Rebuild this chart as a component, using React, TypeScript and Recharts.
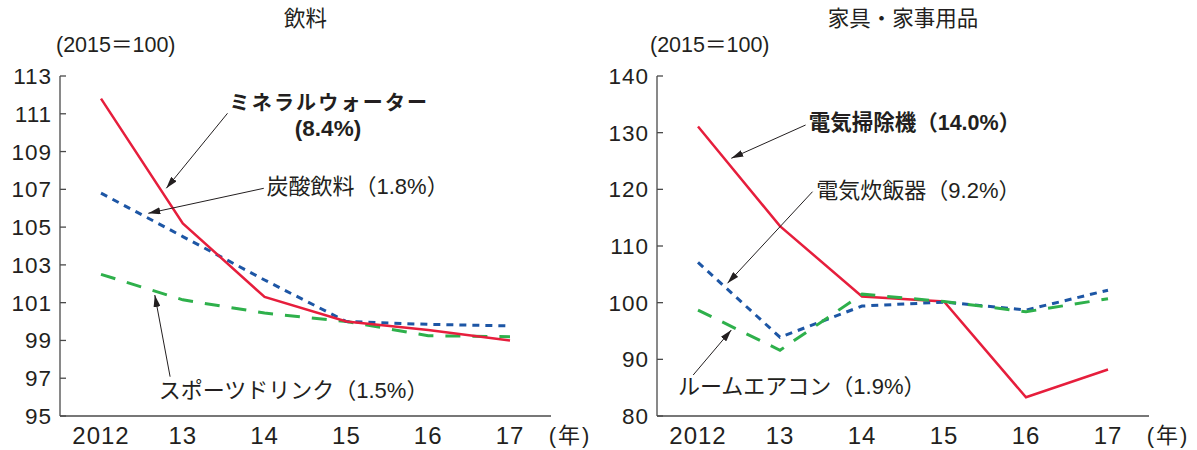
import { LineChart, Line, XAxis, YAxis } from "recharts";

// x categories (years)
const years = ["2012", "13", "14", "15", "16", "17"];

// 飲料 (2015=100)
const mineralWater = [111.8, 105.2, 101.3, 100.0, 99.55, 99.0];
const carbonated = [106.8, 104.5, 102.2, 100.0, 99.85, 99.77];
const sportsDrink = [102.5, 101.15, 100.45, 100.0, 99.25, 99.2];
const drinkTicks = [95, 97, 99, 101, 103, 105, 107, 109, 111, 113];

// 家具・家事用品 (2015=100)
const vacuum = [131.1, 113.5, 101.1, 100.2, 83.3, 88.2];
const riceCooker = [107.1, 93.9, 99.4, 100.1, 98.7, 102.2];
const airCon = [98.7, 91.6, 101.5, 100.2, 98.4, 100.7];
const homeTicks = [80, 90, 100, 110, 120, 130, 140];

const drinkRows = years.map((year, i) => ({
  year,
  mineral: mineralWater[i],
  carbonated: carbonated[i],
  sports: sportsDrink[i],
}));

const homeRows = years.map((year, i) => ({
  year,
  vacuum: vacuum[i],
  rice: riceCooker[i],
  aircon: airCon[i],
}));

const INK = "#231f20";
const FRAME = "#4a4a4a";
const RED = "#e61e3c";
const BLUE = "#1d56a5";
const GREEN = "#2eb04b";
const LATIN = "'Liberation Sans', Arial, 'Noto Sans CJK JP', sans-serif";

const TOP = 76;
const PLOT_H = 340;

interface TickProps {
  x?: number;
  y?: number;
  payload?: { value: string | number };
}

const makeYTick = (axisX: number) => (props: TickProps) => {
  const { y = 0, payload } = props;
  return (
    <g>
      <line x1={axisX} x2={axisX + 6} y1={y} y2={y} stroke={FRAME} strokeWidth={1.3} />
      <text
        x={axisX - 8}
        y={y + 8}
        textAnchor="end"
        fontFamily={LATIN}
        fontSize={22.5}
        letterSpacing={1}
        fill={INK}
      >
        {payload?.value}
      </text>
    </g>
  );
};

const XTick = (props: TickProps) => {
  const { x = 0, payload } = props;
  return (
    <text
      x={x}
      y={TOP + PLOT_H + 28}
      textAnchor="middle"
      fontFamily={LATIN}
      fontSize={24}
      letterSpacing={1}
      fill={INK}
    >
      {payload?.value}
    </text>
  );
};

interface PanelProps {
  rows: Record<string, string | number>[];
  width: number;
  axisW: number;
  right: number;
  domain: [number, number];
  ticks: number[];
  series: { key: string; color: string; dash?: string; width: number }[];
}

function Panel({ rows, width, axisW, right, domain, ticks, series }: PanelProps) {
  const frame = { stroke: FRAME, strokeWidth: 1.3 };
  return (
    <LineChart
      width={width}
      height={450}
      data={rows}
      margin={{ top: TOP, right, bottom: 0, left: 0 }}
    >
      <XAxis
        dataKey="year"
        height={34}
        padding={{ left: 41, right: 41 }}
        interval={0}
        axisLine={frame}
        tickLine={false}
        tick={XTick}
      />
      <XAxis
        xAxisId="top"
        orientation="top"
        dataKey="year"
        height={0}
        padding={{ left: 41, right: 41 }}
        axisLine={frame}
        tickLine={false}
        tick={false}
      />
      <YAxis
        width={axisW}
        domain={domain}
        ticks={ticks}
        interval={0}
        allowDataOverflow
        axisLine={frame}
        tickLine={false}
        tick={makeYTick(axisW)}
      />
      <YAxis
        yAxisId="right"
        orientation="right"
        width={0}
        domain={domain}
        axisLine={frame}
        tickLine={false}
        tick={false}
      />
      {series.map((s) => (
        <Line
          key={s.key}
          type="linear"
          dataKey={s.key}
          stroke={s.color}
          strokeWidth={s.width}
          strokeDasharray={s.dash}
          dot={false}
          activeDot={false}
          isAnimationActive={false}
        />
      ))}
    </LineChart>
  );
}

interface Note {
  text: string;
  x: number;
  y: number;
  bold?: boolean;
  size?: number;
  anchor?: "start" | "middle" | "end";
  spacing?: number;
}

const notes: Note[] = [
  { text: "飲料", x: 305.5, y: 19, anchor: "middle", size: 21.5 },
  { text: "家具・家事用品", x: 903, y: 19, anchor: "middle", size: 21.5 },
  { text: "(2015＝100)", x: 56, y: 45, size: 21.5 },
  { text: "(2015＝100)", x: 650, y: 45, size: 21.5 },
  { text: "(年)", x: 570, y: 435, anchor: "middle", size: 22, spacing: 2 },
  { text: "(年)", x: 1168, y: 435, anchor: "middle", size: 22, spacing: 2 },
  { text: "ミネラルウォーター", x: 229.5, y: 102.5, bold: true, size: 20, spacing: 2.2 },
  { text: "(8.4%)", x: 328, y: 128.5, bold: true, size: 22.5, anchor: "middle" },
  { text: "炭酸飲料（1.8%）", x: 266.5, y: 186 },
  { text: "スポーツドリンク（1.5%）", x: 158.7, y: 390 },
  { text: "電気掃除機（14.0%）", x: 808.7, y: 123, bold: true, size: 21.5 },
  { text: "電気炊飯器（9.2%）", x: 816.3, y: 190 },
  { text: "ルームエアコン（1.9%）", x: 678, y: 386 },
];

// leader arrows: [fromX, fromY, tipX, tipY]
const arrows: [number, number, number, number][] = [
  [227.5, 113.3, 166.3, 188.3],
  [263.8, 188.3, 148.3, 213.3],
  [170.1, 376.7, 154.8, 295],
  [805.6, 125, 731.3, 158.3],
  [812.5, 191.7, 727.5, 283.3],
  [693.2, 375, 731.3, 330],
];

function Annotations() {
  return (
    <svg
      width={1197}
      height={450}
      style={{ position: "absolute", left: 0, top: 0, pointerEvents: "none" }}
    >
      <defs>
        <marker
          id="head"
          markerUnits="userSpaceOnUse"
          markerWidth={12}
          markerHeight={7}
          refX={12}
          refY={3.5}
          orient="auto"
        >
          <path d="M0,0 L12,3.5 L0,7 z" fill={INK} />
        </marker>
      </defs>
      {arrows.map(([x1, y1, x2, y2], i) => (
        <line
          key={i}
          x1={x1}
          y1={y1}
          x2={x2}
          y2={y2}
          stroke={INK}
          strokeWidth={1}
          markerEnd="url(#head)"
        />
      ))}
      {notes.map((n, i) => (
        <text
          key={i}
          x={n.x}
          y={n.y}
          textAnchor={n.anchor ?? "start"}
          dominantBaseline="central"
          fontFamily={LATIN}
          fontSize={n.size ?? 22}
          fontWeight={n.bold ? 700 : 400}
          letterSpacing={n.spacing ?? 0}
          fill={INK}
        >
          {n.text}
        </text>
      ))}
    </svg>
  );
}

export default function App() {
  return (
    <div
      style={{
        position: "absolute",
        left: 0,
        top: 0,
        width: 1197,
        height: 450,
        background: "#fff",
      }}
    >
      <div style={{ position: "absolute", left: 0, top: 0 }}>
        <Panel
          rows={drinkRows}
          width={600}
          axisW={60}
          right={49}
          domain={[95, 113]}
          ticks={drinkTicks}
          series={[
            { key: "sports", color: GREEN, dash: "15 12", width: 3 },
            { key: "carbonated", color: BLUE, dash: "7 6", width: 3 },
            { key: "mineral", color: RED, width: 2.5 },
          ]}
        />
      </div>
      <div style={{ position: "absolute", left: 600, top: 0 }}>
        <Panel
          rows={homeRows}
          width={597}
          axisW={57}
          right={48}
          domain={[80, 140]}
          ticks={homeTicks}
          series={[
            { key: "vacuum", color: RED, width: 2.5 },
            { key: "rice", color: BLUE, dash: "7 6", width: 3 },
            { key: "aircon", color: GREEN, dash: "15 12", width: 3 },
          ]}
        />
      </div>
      <Annotations />
    </div>
  );
}
